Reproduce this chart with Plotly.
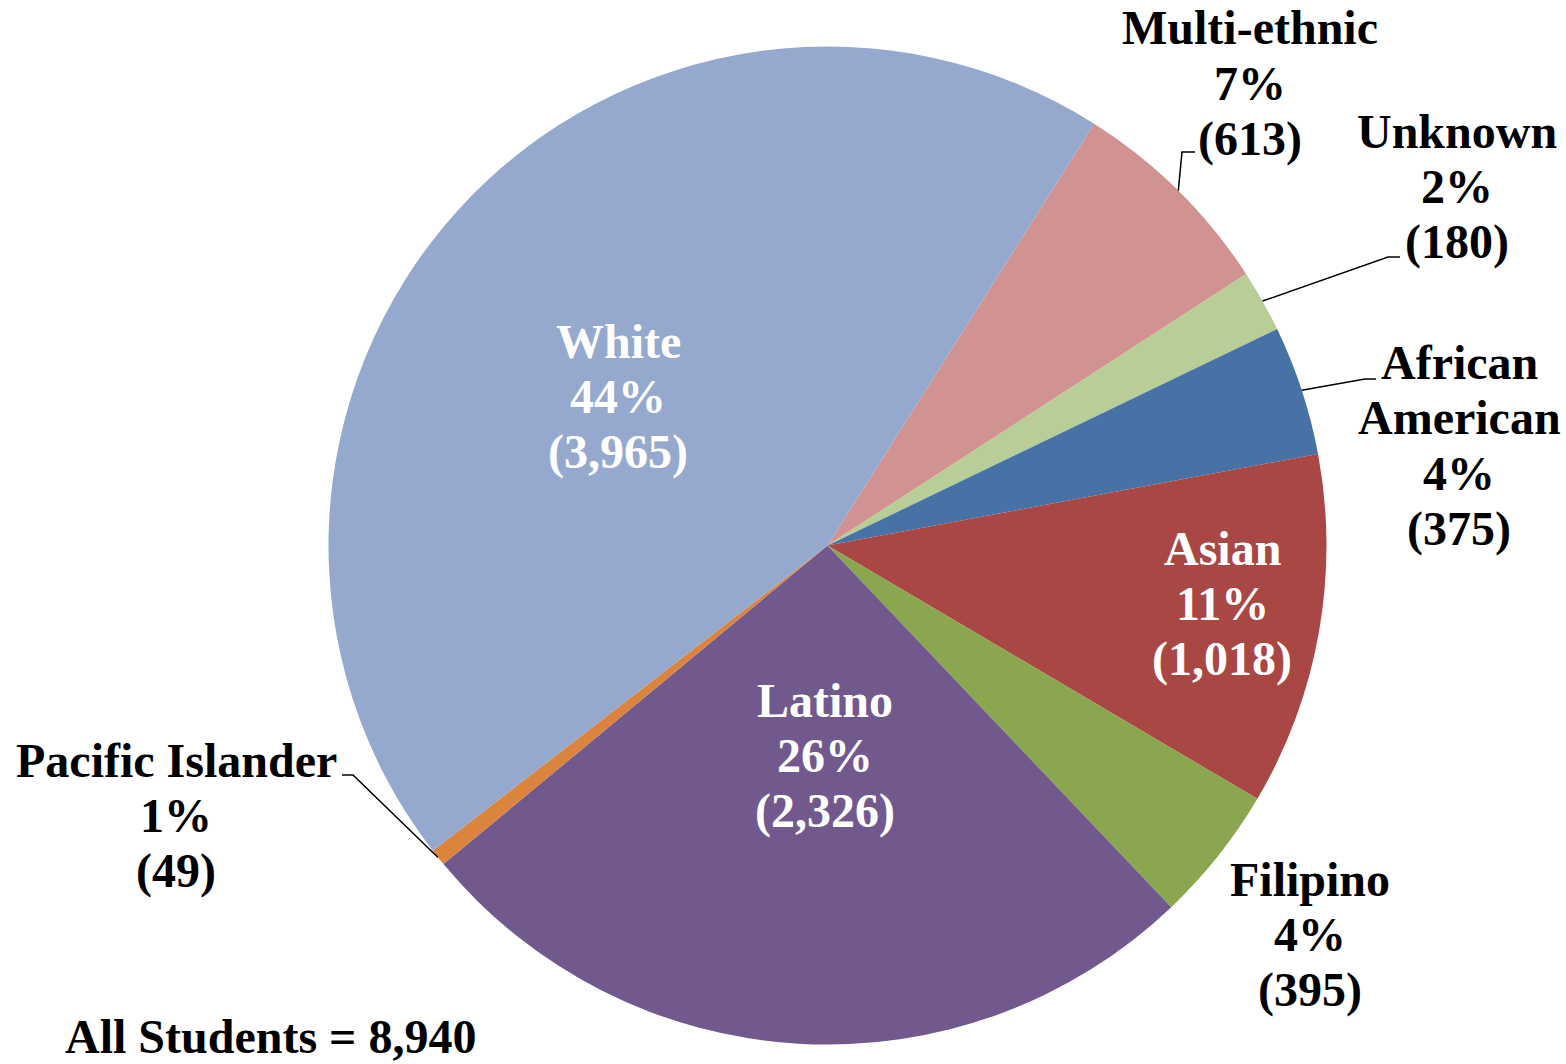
import math
import plotly.graph_objects as go

# ---- data ----
labels = ["Multi-ethnic", "Unknown", "African American", "Asian",
          "Filipino", "Latino", "Pacific Islander", "White"]
label_lines = [["Multi-ethnic"], ["Unknown"], ["African", "American"], ["Asian"],
               ["Filipino"], ["Latino"], ["Pacific Islander"], ["White"]]
counts = [613, 180, 375, 1018, 395, 2326, 49, 3965]
all_students = 8940
total_label = "All Students = {:,}".format(all_students)

# ---- style ----
colors = ["#D19392", "#B9CD97", "#4672A6", "#A94745",
          "#8AA64E", "#71598E", "#DB843D", "#95A9CF"]
inside = {"White", "Latino", "Asian"}
W, H = 1566, 1064
CX, CY, R = 827.5, 545.5, 499.0
ROT = 32.3
FONT = "Liberation Serif, Times New Roman, serif"
FS = 48
LINE_GAP = 55.5

# label anchor: centre x, centre y of first line (pixels)
label_pos = {
    "Multi-ethnic": (1250, 27.5),
    "Unknown": (1457, 131),
    "African American": (1459, 362),
    "Asian": (1222, 548),
    "Filipino": (1310, 879),
    "Latino": (825, 700),
    "Pacific Islander": (176, 760),
    "White": (618, 341),
}
# leader line elbow / end points (pixels); start is on the slice edge
leaders = {
    "Multi-ethnic": [(1182, 152), (1195, 152)],
    "Unknown": [(1388, 257), (1400, 257)],
    "African American": [(1365, 379), (1376, 379)],
    "Pacific Islander": [(353, 775), (342, 775)],
}


def px(x):
    return x / W


def py(y):
    return 1 - y / H


fig = go.Figure()
fig.add_trace(go.Pie(
    labels=labels, values=counts, sort=False, direction="clockwise",
    rotation=ROT, textinfo="none", showlegend=False,
    marker=dict(colors=colors, line=dict(width=0)),
    domain=dict(x=[(CX - R) / W, (CX + R) / W],
                y=[(H - CY - R) / H, (H - CY + R) / H]),
    hoverinfo="label+value+percent",
))

annotations = []
shapes = []
s = sum(counts)
cum = 0
for lab, lines, c in zip(labels, label_lines, counts):
    mid = ROT + (cum + c / 2) / s * 360
    cum += c
    pct = "{:.0f}%".format(c / all_students * 100)
    cnt = "({:,})".format(c)
    all_lines = lines + [pct, cnt]
    x0, y0 = label_pos[lab]
    col = "white" if lab in inside else "black"
    for i, t in enumerate(all_lines):
        annotations.append(dict(
            x=px(x0), y=py(y0 + i * LINE_GAP), xref="paper", yref="paper",
            text=t, showarrow=False, xanchor="center", yanchor="middle",
            font=dict(family=FONT, size=FS, color=col, weight="bold")))
    if lab in leaders:
        a = math.radians(mid)
        sx, sy = CX + R * math.sin(a), CY - R * math.cos(a)
        pts = [(sx, sy)] + leaders[lab]
        path = "M " + " L ".join("{:.5f} {:.5f}".format(px(x), py(y)) for x, y in pts)
        shapes.append(dict(type="path", xref="paper", yref="paper", path=path,
                           line=dict(color="black", width=1.5)))

annotations.append(dict(
    x=px(270), y=0, xref="paper", yref="paper", text=total_label,
    showarrow=False, xanchor="center", yanchor="bottom", borderpad=0,
    font=dict(family=FONT, size=FS, color="black", weight="bold")))

fig.update_layout(
    width=W, height=H, margin=dict(l=0, r=0, t=0, b=0),
    paper_bgcolor="white", plot_bgcolor="white",
    annotations=annotations, shapes=shapes,
)
fig.write_html(
    "out.html",
    config={"displayModeBar": False},
    post_script="document.body.style.margin='0';document.body.style.overflow='hidden';",
)
